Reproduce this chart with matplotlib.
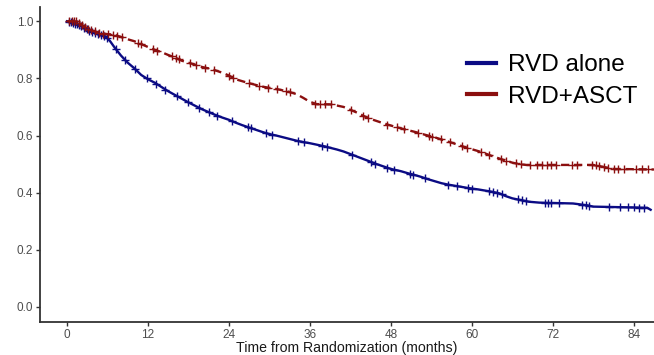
import numpy as np
import matplotlib
matplotlib.use("Agg")
import matplotlib.pyplot as plt
from matplotlib.lines import Line2D

plt.rcParams['font.family'] = ['Liberation Sans', 'DejaVu Sans']

# Kaplan-Meier estimates (months, survival probability)
rvd_t = [0, 1, 2, 3, 4, 5, 5.8, 6.4, 7, 8, 9, 10, 11, 12, 13, 14, 15, 16, 17, 18,
         19, 20, 21, 22, 23, 24, 25, 26, 27, 28, 29, 30, 31, 32, 33, 34, 35, 36,
         37, 38, 39, 40, 41, 42, 43, 44, 45, 46, 47, 48, 49.5, 50.5, 51.5, 52.5,
         53.5, 54.5, 55.5, 56.5, 58, 59.5, 61, 62.5, 64, 65, 66, 67, 68.5, 70,
         75, 77, 78, 86, 86.5]
rvd_s = [1.0, 0.993, 0.985, 0.97, 0.96, 0.953, 0.945, 0.93, 0.91, 0.88, 0.855,
         0.835, 0.812, 0.797, 0.785, 0.77, 0.755, 0.742, 0.729, 0.716, 0.704,
         0.692, 0.682, 0.672, 0.663, 0.655, 0.645, 0.636, 0.628, 0.62, 0.612,
         0.605, 0.6, 0.594, 0.588, 0.582, 0.577, 0.573, 0.568, 0.563, 0.557,
         0.551, 0.544, 0.535, 0.526, 0.517, 0.508, 0.499, 0.491, 0.483, 0.475,
         0.468, 0.462, 0.455, 0.447, 0.44, 0.433, 0.428, 0.422, 0.416, 0.411,
         0.405, 0.398, 0.388, 0.38, 0.375, 0.368, 0.365, 0.362, 0.356, 0.351,
         0.347, 0.34]

asct_t = [0, 1.5, 2, 3, 4, 5, 6, 7, 8, 9, 10, 11, 12, 13, 14, 15, 16, 17, 18, 19,
          20, 21, 22, 23, 24, 25, 26, 27, 28, 29, 30, 31, 32, 33, 34, 35, 36, 37,
          39, 40, 41, 42, 43, 44, 45, 46, 47, 48, 49, 50, 51, 52, 53, 54, 55, 56,
          57, 58, 59, 60, 61, 62, 63, 64, 65, 66, 67, 68, 78, 79.5, 81, 87]
asct_s = [1.0, 1.0, 0.99, 0.975, 0.965, 0.958, 0.955, 0.953, 0.945, 0.937, 0.93,
          0.92, 0.91, 0.9, 0.892, 0.882, 0.873, 0.862, 0.855, 0.848, 0.84, 0.835,
          0.828, 0.82, 0.81, 0.797, 0.79, 0.783, 0.777, 0.771, 0.767, 0.763,
          0.758, 0.752, 0.745, 0.732, 0.718, 0.71, 0.709, 0.705, 0.7, 0.69, 0.68,
          0.668, 0.658, 0.65, 0.642, 0.635, 0.628, 0.622, 0.616, 0.61, 0.603,
          0.597, 0.59, 0.582, 0.575, 0.567, 0.559, 0.552, 0.545, 0.537, 0.528,
          0.52, 0.512, 0.505, 0.5, 0.497, 0.497, 0.49, 0.483, 0.481]

# Censoring times
rvd_cens = [0.3, 0.6, 0.9, 1.2, 1.5, 1.8, 2.1, 2.5, 2.9, 3.3, 3.7, 4.2, 4.6, 5.0,
            5.5, 6.0, 7.2, 8.6, 10.1, 11.8, 13.2, 14.6, 16.3, 18.0, 19.5, 21.0,
            22.3, 24.5, 26.8, 27.3, 29.5, 30.4, 34.3, 35.1, 37.8, 38.6, 42.2,
            45.0, 45.7, 47.5, 48.4, 50.8, 51.3, 53.1, 56.5, 57.8, 59.4, 60.1,
            62.6, 63.2, 63.8, 64.4, 66.8, 67.4, 68.1, 70.8, 71.3, 71.8, 72.9,
            76.3, 76.9, 77.4, 80.3, 82.0, 83.2, 84.1, 84.8, 85.5]
asct_cens = [0.3, 0.7, 1.0, 1.4, 1.8, 2.2, 2.7, 3.1, 3.6, 4.1, 4.7, 5.3, 6.1, 6.8,
             7.4, 8.2, 10.5, 11.0, 12.8, 13.3, 15.5, 16.1, 16.6, 18.3, 19.1,
             20.4, 21.8, 24.0, 24.6, 27.0, 28.4, 29.8, 31.1, 32.4, 33.0, 36.8,
             37.5, 38.3, 39.1, 42.1, 43.9, 44.6, 47.5, 48.9, 49.9, 52.0, 53.6,
             54.1, 55.4, 56.7, 58.5, 59.3, 61.3, 62.5, 64.3, 65.0, 66.5, 67.3,
             68.6, 69.6, 70.4, 71.1, 71.8, 72.5, 74.8, 75.6, 77.8, 78.4, 78.9,
             79.6, 80.2, 81.0, 81.7, 82.5, 84.3, 85.2, 86.1]

groups = ["RVD alone", "RVD+ASCT"]
colors = ["#0b0b84", "#8b0f0f"]
x_ticks = [0, 12, 24, 36, 48, 60, 72, 84]
y_ticks = [0.0, 0.2, 0.4, 0.6, 0.8, 1.0]

fig = plt.figure(figsize=(6.54, 3.55), dpi=100)
ax = fig.add_axes([40 / 654, 1 - 322 / 355, 614 / 654, 315 / 355])

curves = [(rvd_t, rvd_s, rvd_cens, "-"), (asct_t, asct_s, asct_cens, (0, (3.5, 2)))]
for (t, s, cens, ls), col in zip(curves, colors):
    ax.plot(t, s, color=col, lw=1.7, linestyle=ls)
    ax.plot(cens, np.interp(cens, t, s), linestyle="none", marker="+",
            color=col, markersize=5.5, markeredgewidth=1.0)

ax.set_xlim(-4, 87)
ax.set_ylim(-0.053, 1.05)
ax.set_xticks(x_ticks)
ax.set_xticklabels([str(v) for v in x_ticks])
ax.set_yticks(y_ticks)
ax.set_yticklabels([f"{v:.1f}" for v in y_ticks])
ax.tick_params(axis="both", colors="#333333", labelcolor="#4d4d4d",
               labelsize=8.5, length=3, width=1, pad=2)

for side in ("top", "right"):
    ax.spines[side].set_visible(False)
for side in ("left", "bottom"):
    ax.spines[side].set_linewidth(1.3)
    ax.spines[side].set_color("#333333")

ax.set_xlabel("Time from Randomization (months)", fontsize=10.2, color="#1a1a1a")
ax.xaxis.set_label_coords(0.4995, -0.083)
ax.xaxis.label.set_verticalalignment("center")

handles = [Line2D([0], [0], color=c, lw=3) for c in colors]
leg = ax.legend(handles, groups, loc="upper left", bbox_to_anchor=(0.695, 0.85),
                frameon=False, fontsize=17.5, handlelength=1.2, handletextpad=0.5,
                labelspacing=0.38, borderaxespad=0, borderpad=0)

fig.savefig("out.png", dpi=100)
